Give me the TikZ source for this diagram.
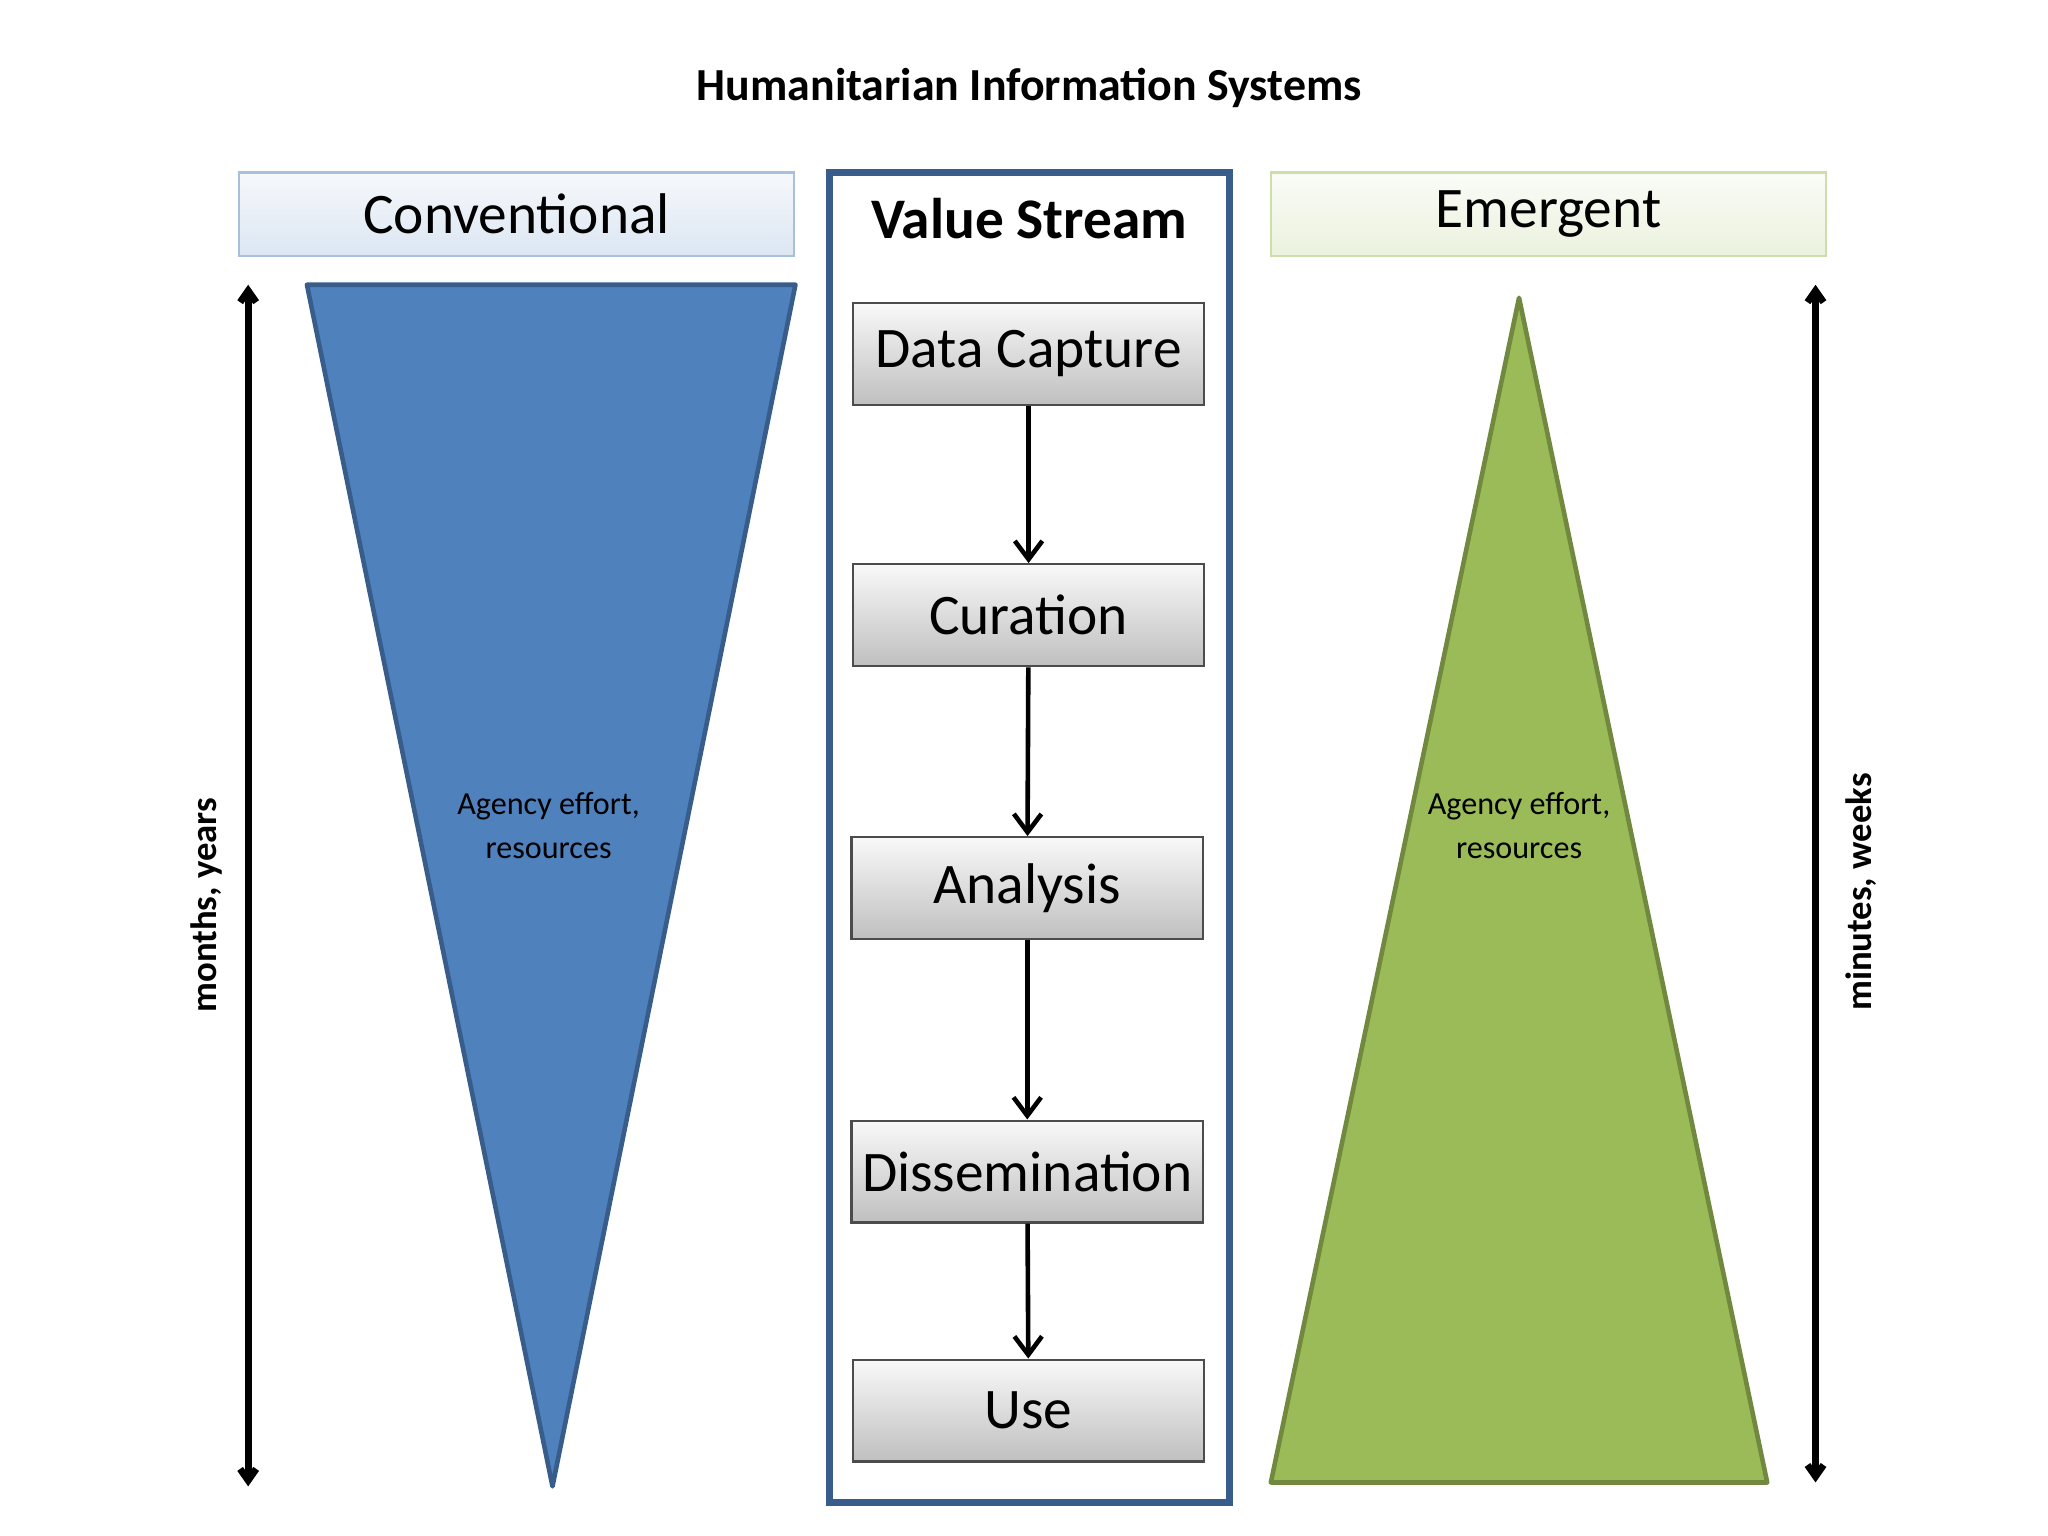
\documentclass[tikz,border=0pt]{standalone}
\usepackage{fontspec}
\setmainfont{Carlito}
\usetikzlibrary{arrows.meta}
\definecolor{blueF}{HTML}{4F81BD}
\definecolor{blueD}{HTML}{385D8A}
\definecolor{greenF}{HTML}{9BBB59}
\definecolor{greenD}{HTML}{71893F}
\tikzset{
 stage/.style={draw=black!70, line width=1pt, top color=white!95!gray, bottom color=black!25, minimum width=5.38cm, minimum height=1.56cm, font=\fontsize{25}{30}\selectfont, inner sep=0pt},
 flow/.style={-{Straight Barb[length=8pt,width=12pt]}, line width=2pt},
 span/.style={{Straight Barb[length=5pt,width=7pt]}-{Straight Barb[length=5pt,width=7pt]}, line width=3pt},
 hdr/.style={minimum width=8.5cm, minimum height=1.28cm, inner sep=0pt, font=\fontsize{25}{30}\selectfont}
}
\begin{document}
\begin{tikzpicture}[x=0.02cm,y=-0.02cm]
\useasboundingbox (0,0) rectangle (1568,1176);
\node[font=\bfseries\fontsize{20}{24}\selectfont] (title) at (788,67) {Humanitarian Information Systems};
\node[hdr, draw=blueF!50, line width=1.2pt, top color=blueF!5, bottom color=blueF!20] (conv) at (395.5,164) {Conventional};
\node[hdr, draw=greenF!50, line width=1.2pt, top color=greenF!5, bottom color=greenF!20] (emer) at (1185.5,164) {Emergent};
\draw[blueD, line width=3pt] (635,132) rectangle (941,1150);
\node[font=\bfseries\fontsize{25}{30}\selectfont] (vs) at (788,167) {Value Stream};
\draw[blueD, fill=blueF, line width=2pt, line join=round] (235,218) -- (609,218) -- (423,1138) -- cycle;
\draw[greenD, fill=greenF, line width=2pt, line join=round] (1163,228) -- (1353,1135) -- (973,1135) -- cycle;
\node[align=center, font=\fontsize{14}{19}\selectfont] (ta) at (420,632) {Agency effort,\\resources};
\node[align=center, font=\fontsize{14}{19}\selectfont] (tb) at (1163,632) {Agency effort,\\resources};
\coordinate (la) at (190,218); \coordinate (lb) at (190,1138);
\coordinate (ra) at (1390,218); \coordinate (rb) at (1390,1135);
\draw[span] (la) -- (lb);
\draw[span] (ra) -- (rb);
\node[rotate=90, font=\bfseries\fontsize{16}{20}\selectfont] (ml) at (158,693) {months, years};
\node[rotate=90, font=\bfseries\fontsize{16}{20}\selectfont] (mr) at (1425,683) {minutes, weeks};
\node[stage] (dc) at (787.5,271) {Data Capture};
\node[stage] (cu) at (787.5,471) {Curation};
\node[stage] (an) at (786.5,680) {Analysis};
\node[stage] (di) at (786.5,897) {Dissemination};
\node[stage] (us) at (787.5,1080) {Use};
\draw[flow] (dc) -- (cu);
\draw[flow] (cu) -- (an);
\draw[flow] (an) -- (di);
\draw[flow] (di) -- (us);
\end{tikzpicture}
\end{document}
